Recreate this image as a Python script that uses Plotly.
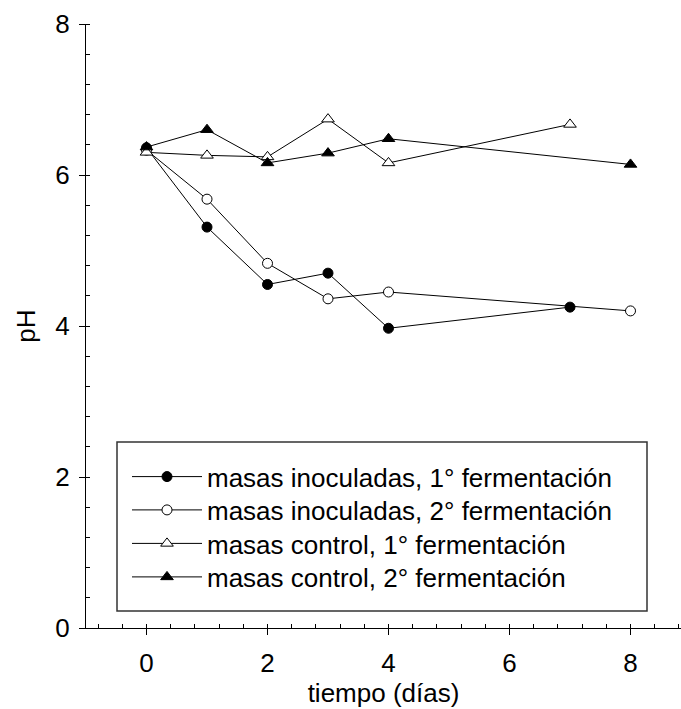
import plotly.graph_objects as go

# Data
dias_inoc1 = [0, 1, 2, 3, 4, 7]
ph_inoc1 = [6.36, 5.31, 4.55, 4.70, 3.97, 4.25]
dias_inoc2 = [0, 1, 2, 3, 4, 8]
ph_inoc2 = [6.33, 5.68, 4.83, 4.36, 4.45, 4.20]
dias_ctrl1 = [0, 1, 2, 3, 4, 7]
ph_ctrl1 = [6.30, 6.26, 6.24, 6.74, 6.16, 6.67]
dias_ctrl2 = [0, 1, 2, 3, 4, 8]
ph_ctrl2 = [6.37, 6.60, 6.16, 6.29, 6.48, 6.14]

nombres = [
    "masas inoculadas, 1° fermentación",
    "masas inoculadas, 2° fermentación",
    "masas control, 1° fermentación",
    "masas control, 2° fermentación",
]

FONT = "Liberation Sans, Arial, sans-serif"

W, H = 681, 709
ML, MR, MT, MB = 86, 0, 24, 81

fig = go.Figure()

pw = W - ML - MR
ph = H - MT - MB


def px_x(p):
    return (p - ML) / pw


def px_y(p):
    return (H - MB - p) / ph


series = [
    (dias_inoc1, ph_inoc1, "circle", "black", 10),
    (dias_inoc2, ph_inoc2, "circle", "white", 10),
    (dias_ctrl1, ph_ctrl1, "triangle-up", "white", 11),
    (dias_ctrl2, ph_ctrl2, "triangle-up", "black", 11),
]
legend_rows = [476.7, 510, 543.5, 577]
legend_ids = ["legend", "legend2", "legend3", "legend4"]

for (xs, ys, sym, fill, sz), name, lid in zip(series, nombres, legend_ids):
    fig.add_trace(go.Scatter(
        x=xs, y=ys, name=name, mode="lines+markers",
        line=dict(color="black", width=1),
        marker=dict(symbol=sym, size=sz, color=fill,
                    line=dict(color="black", width=1)),
        legend=lid,
    ))

# legend frame
fig.add_shape(type="rect", xref="paper", yref="paper",
              x0=px_x(117), x1=px_x(647), y0=px_y(611), y1=px_y(442),
              line=dict(color="#333333", width=1.5), fillcolor="rgba(0,0,0,0)",
              layer="above")

xr = [-1, -1 + pw / 60.5]

legend_cfg = {}
for lid, row in zip(legend_ids, legend_rows):
    legend_cfg[lid] = dict(
        x=px_x(127), y=px_y(row), xanchor="left", yanchor="middle",
        bgcolor="rgba(0,0,0,0)", borderwidth=0,
        font=dict(family=FONT, size=26, color="black"),
        itemwidth=70, tracegroupgap=0,
    )

fig.update_layout(
    width=W, height=H,
    margin=dict(l=ML, r=MR, t=MT, b=MB, pad=0),
    paper_bgcolor="white", plot_bgcolor="white",
    font=dict(family=FONT, size=26, color="black"),
    showlegend=True,
    xaxis=dict(
        range=xr, tick0=0, dtick=2, ticks="outside", ticklen=6, tickwidth=1,
        tickcolor="black", showline=True, linecolor="black", linewidth=1,
        showgrid=False, zeroline=False, automargin=False,
        minor=dict(tick0=0, dtick=0.4, ticks="inside", ticklen=4,
                   tickcolor="black", tickwidth=1, showgrid=False),
        tickfont=dict(family=FONT, size=26),
        ticklabelstandoff=6,
        title=dict(text="tiempo (días)", font=dict(family=FONT, size=26), standoff=2),
    ),
    xaxis2=dict(
        range=xr, overlaying="x", side="top", anchor="y",
        tick0=0, dtick=0.4, ticks="inside", ticklen=4, tickwidth=1,
        tickcolor="black", showline=True, linecolor="black", linewidth=1,
        showticklabels=False, showgrid=False, zeroline=False, automargin=False,
    ),
    yaxis=dict(
        range=[0, 8], tick0=0, dtick=2, ticks="outside", ticklen=6, tickwidth=1,
        tickcolor="black", showline=True, linecolor="black", linewidth=1,
        showgrid=False, zeroline=False, automargin=False,
        minor=dict(tick0=0, dtick=0.4, ticks="inside", ticklen=4,
                   tickcolor="black", tickwidth=1, showgrid=False),
        tickfont=dict(family=FONT, size=26),
        ticklabelstandoff=4,
        title=dict(text="pH", font=dict(family=FONT, size=26), standoff=12),
    ),
    **legend_cfg,
)

fig.write_html(
    "out.html",
    config={"displayModeBar": False},
    post_script="document.body.style.margin='0';document.body.style.overflow='hidden';",
)
